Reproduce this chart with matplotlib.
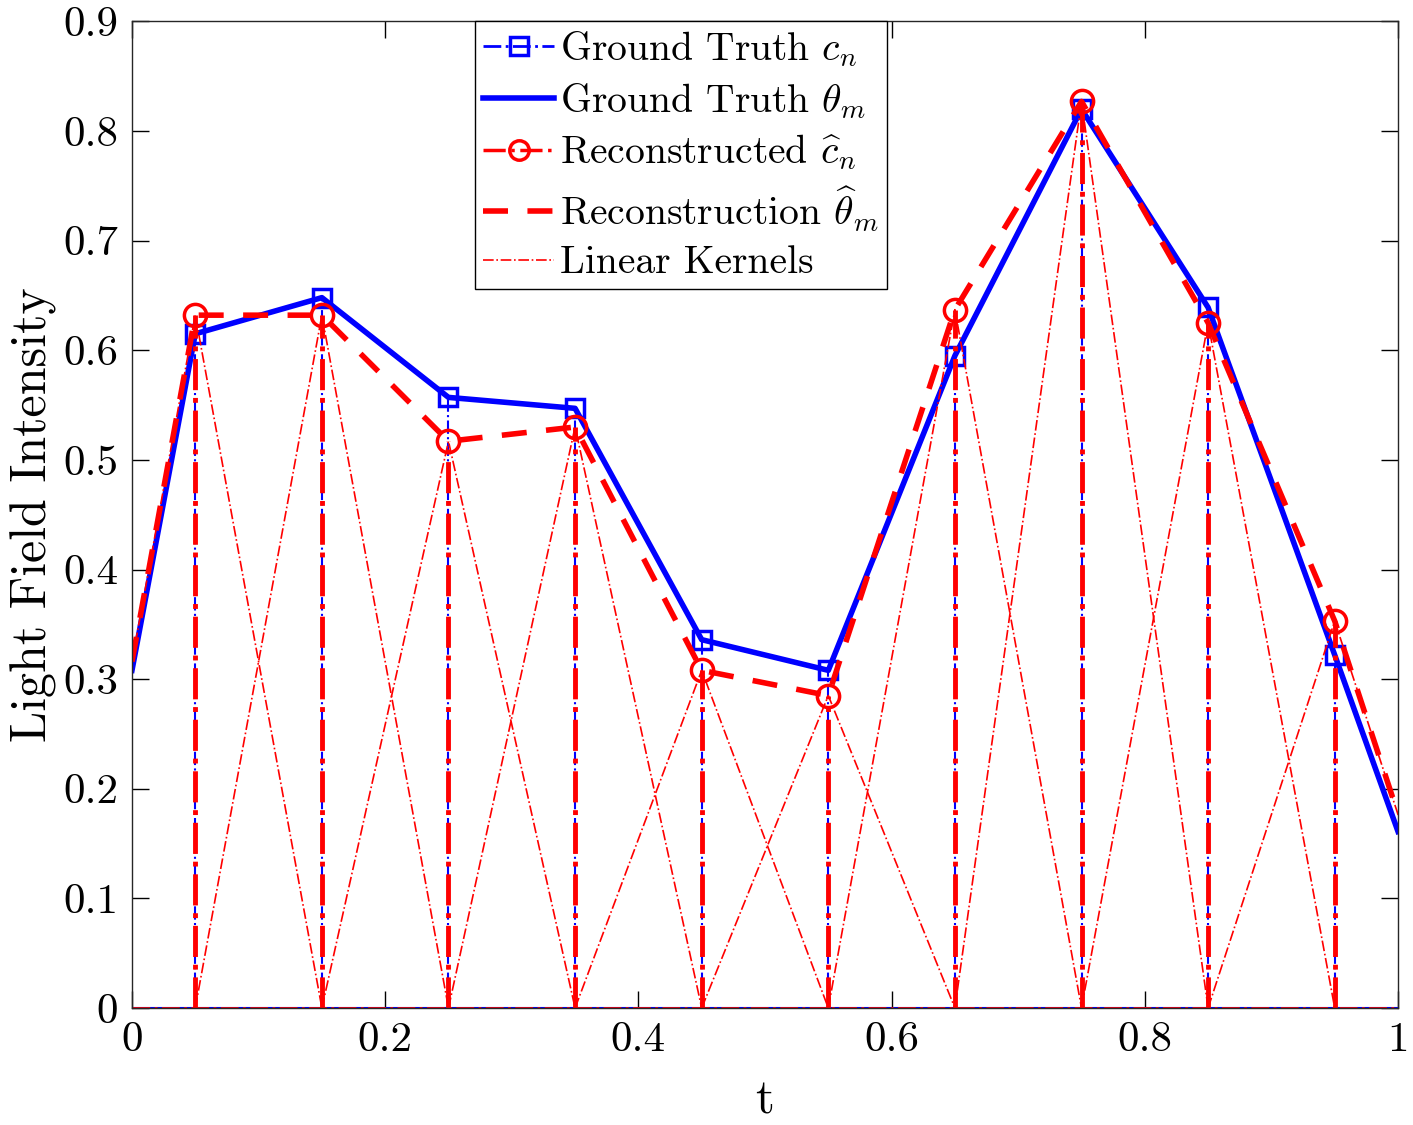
import numpy as np
import matplotlib
matplotlib.use("Agg")
import matplotlib.pyplot as plt

plt.rcParams['font.family'] = 'serif'
plt.rcParams['font.serif'] = ['cmr10']
plt.rcParams['mathtext.fontset'] = 'cm'
plt.rcParams['axes.formatter.use_mathtext'] = True

# sample positions and coefficients
t_n = [0.05, 0.15, 0.25, 0.35, 0.45, 0.55, 0.65, 0.75, 0.85, 0.95]
c_true = [0.615, 0.648, 0.557, 0.547, 0.336, 0.308, 0.595, 0.820, 0.639, 0.322]
c_rec = [0.632, 0.632, 0.517, 0.530, 0.308, 0.285, 0.637, 0.827, 0.625, 0.353]

# continuous signals (values at knots incl. the borders)
t_m = [0.0, 0.05, 0.15, 0.25, 0.35, 0.45, 0.55, 0.65, 0.75, 0.85, 0.95, 1.0]
theta_true = [0.308, 0.615, 0.648, 0.557, 0.547, 0.336, 0.308, 0.595, 0.820, 0.639, 0.322, 0.161]
theta_rec = [0.316, 0.632, 0.632, 0.517, 0.530, 0.308, 0.285, 0.637, 0.827, 0.625, 0.353, 0.177]

kernel_halfwidth = 0.1

fig, ax = plt.subplots(figsize=(14.13, 11.25), dpi=100)
fig.subplots_adjust(left=0.0934, right=0.9894, bottom=0.104, top=0.981)

# ground truth stems
for x, y in zip(t_n, c_true):
    ax.plot([x, x], [0, y], color='b', linestyle='-.', linewidth=1.5)
ax.plot([0, 1], [0, 0], color='b', linestyle='-', linewidth=1.5)
ax.plot(t_n, c_true, linestyle='none', color='b', marker='s', markersize=13,
        markerfacecolor='none', markeredgewidth=2.5)
l2, = ax.plot(t_m, theta_true, color='b', linestyle='-', linewidth=4)

# reconstructed stems
for x, y in zip(t_n, c_rec):
    ax.plot([x, x], [0, y], color='r', linestyle='-.', linewidth=3.5)
ax.plot([0, 1], [0, 0], color='r', linestyle='-.', linewidth=2)
ax.plot(t_n, c_rec, linestyle='none', color='r', marker='o', markersize=16,
        markerfacecolor='none', markeredgewidth=2.5)
l4, = ax.plot(t_m, theta_rec, color='r', linestyle=(0, (4.5, 3.5)), linewidth=4)

# linear kernels
for x, y in zip(t_n, c_rec):
    ax.plot([x - kernel_halfwidth, x, x + kernel_halfwidth], [0, y, 0],
            color='r', linestyle='-.', linewidth=1.2)

h1, = ax.plot([], [], color='b', linestyle='-.', linewidth=2, marker='s', markersize=13,
              markerfacecolor='none', markeredgewidth=2.5)
h3, = ax.plot([], [], color='r', linestyle='-.', linewidth=2.5, marker='o', markersize=14,
              markerfacecolor='none', markeredgewidth=2.5)
h5, = ax.plot([], [], color='r', linestyle='-.', linewidth=1.2)

leg = ax.legend([h1, l2, h3, l4, h5],
                [r'Ground Truth $c_n$', r'Ground Truth $\theta_m$',
                 r'Reconstructed $\widehat{c}_n$', r'Reconstruction $\widehat{\theta}_m$',
                 'Linear Kernels'],
                loc='upper left', bbox_to_anchor=(0.271, 1.0), fontsize=28.5,
                frameon=True, fancybox=False, edgecolor='k', framealpha=1,
                handlelength=1.8, handletextpad=0.15, labelspacing=0.3,
                borderpad=0.2, borderaxespad=0)
leg.get_frame().set_linewidth(1)

ax.set_xlim(0, 1)
ax.set_ylim(0, 0.9)
ax.set_xticks([0, 0.2, 0.4, 0.6, 0.8, 1])
ax.set_xticklabels(['0', '0.2', '0.4', '0.6', '0.8', '1'])
ax.set_yticks([0, 0.1, 0.2, 0.3, 0.4, 0.5, 0.6, 0.7, 0.8, 0.9])
ax.set_yticklabels(['0', '0.1', '0.2', '0.3', '0.4', '0.5', '0.6', '0.7', '0.8', '0.9'])
ax.tick_params(direction='in', top=True, right=True, length=12, width=1,
               labelsize=31, pad=10)
for s in ax.spines.values():
    s.set_linewidth(1)
    s.set_color('#262626')
ax.set_xlabel('t', fontsize=35, labelpad=14)
ax.set_ylabel('Light Field Intensity', fontsize=36, labelpad=4)

fig.savefig('out.png', dpi=100)
